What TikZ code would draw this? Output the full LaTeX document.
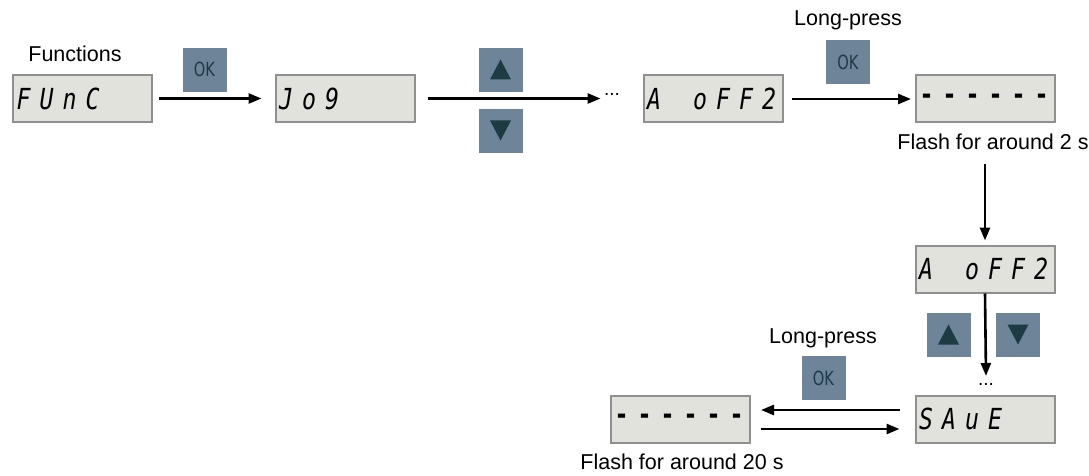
\documentclass[tikz,border=0pt]{standalone}
\usepackage{fontspec}
\setmainfont{Liberation Sans}
\newfontfamily\segfont{DejaVu Sans Mono}
\newfontfamily\okfont{DejaVu Sans}
\usetikzlibrary{arrows.meta}
\definecolor{btnfill}{HTML}{6E8498}
\definecolor{tri}{HTML}{1E3B44}
\definecolor{lcdfill}{HTML}{E1E2DC}
\definecolor{lcdline}{HTML}{8F8F8F}
\newcommand\sg[1]{\makebox[23pt][l]{\scalebox{0.8}[1]{#1}}}
\newcommand\segtext[1]{\makebox[132pt][l]{\segfont\itshape\fontsize{29}{29}\selectfont #1}}
\newcommand\dashtext{\makebox[132pt][l]{\segfont\bfseries\fontsize{29}{29}\selectfont \sg{-}\sg{-}\sg{-}\sg{-}\sg{-}\sg{-}}}
\tikzset{
  lcd/.style={draw=lcdline, line width=2pt, fill=lcdfill, minimum width=139pt, minimum height=47pt, inner sep=0pt, text=black},
  btn/.style={fill=btnfill, draw=white, line width=0.5pt, minimum size=45pt, inner sep=0pt},
  oktext/.style={text=tri, font=\okfont\fontsize{19.5}{19.5}\selectfont},
  lbl/.style={font=\fontsize{21.5}{24}\selectfont, inner sep=0pt},
  conn/.style={line width=2.6pt, -{Triangle[length=13pt,width=10pt]}},
}
\begin{document}
\begin{tikzpicture}[x=1pt,y=-1pt]
\useasboundingbox (0,0) rectangle (1089,476);
% row 1
\node[lbl] (lfunc) at (75,54) {Functions};
\node[lcd] (func) at (82.5,98.5) {\segtext{\sg{F}\sg{U}\sg{n}\sg{C}}};
\node[btn] (ok1) at (204.5,69.5) {};
\node[oktext] (ok1t) at (ok1.center) {\scalebox{0.75}[1]{OK}};
\node[lcd] (jog) at (345,98.5) {\segtext{\sg{J}\sg{o}\sg{9}}};
\node[btn] (up1) at (500.5,69.5) {};
\fill[tri] ([shift={(-10.5,10)}]up1.center) -- ([shift={(10.5,10)}]up1.center) -- ([shift={(0,-10)}]up1.center) -- cycle;
\node[btn] (dn1) at (500.5,130.5) {};
\fill[tri] ([shift={(-10.5,-10)}]dn1.center) -- ([shift={(10.5,-10)}]dn1.center) -- ([shift={(0,10)}]dn1.center) -- cycle;
\node[font=\fontsize{19}{20}\selectfont] (dots1) at (612,94) {...};
\node[lcd] (aoff) at (713,99) {\segtext{\sg{A}\sg{}\sg{o}\sg{F}\sg{F}\sg{2}}};
\node[lbl] (lp1) at (848,20) {Long-press};
\node[btn] (ok2) at (848,62) {};
\node[oktext] (ok2t) at (ok2.center) {\scalebox{0.75}[1]{OK}};
\node[lcd] (dash1) at (985.5,99) {\dashtext};
\node[lbl] (fl2) at (993,142) {Flash for around 2 s};
% column
\node[lcd] (aoff2) at (985,269) {\segtext{\sg{A}\sg{}\sg{o}\sg{F}\sg{F}\sg{2}}};
\node[btn] (up2) at (948.5,334.5) {};
\fill[tri] ([shift={(-10.5,10)}]up2.center) -- ([shift={(10.5,10)}]up2.center) -- ([shift={(0,-10)}]up2.center) -- cycle;
\node[btn] (dn2) at (1018,334.5) {};
\fill[tri] ([shift={(-10.5,-10)}]dn2.center) -- ([shift={(10.5,-10)}]dn2.center) -- ([shift={(0,10)}]dn2.center) -- cycle;
\coordinate (dend) at (986,376);
\node[font=\fontsize{19}{20}\selectfont, inner sep=0pt] (dots2) at (986,384) {...};
\node[lcd] (save) at (985,419) {\segtext{\sg{S}\sg{A}\sg{u}\sg{E}}};
% bottom
\node[lcd] (dash2) at (680.5,419) {\dashtext};
\node[lbl] (lp2) at (823,338) {Long-press};
\node[btn] (ok3) at (823.5,378) {};
\node[oktext] (ok3t) at (ok3.center) {\scalebox{0.75}[1]{OK}};
\node[lbl] (fl20) at (682,462) {Flash for around 20 s};
% connectors
\draw[conn, shorten <=6pt, shorten >=13pt] (func.east) -- (jog.west);
\draw[conn, shorten <=12pt] (jog.east) -- (dots1.west |- jog.east);
\draw[conn, shorten <=8pt, shorten >=4pt] (aoff.east) -- (dash1.west |- aoff.east);
\draw[conn, shorten <=14pt, shorten >=4pt] (fl2.south -| aoff2.north) -- (aoff2.north);
\draw[conn] (aoff2.south) -- (dend);
\draw[conn, shorten <=15pt, shorten >=10pt] ([yshift=9pt]save.west) -- ([yshift=9pt]dash2.east);
\draw[conn, shorten <=10pt, shorten >=15pt] ([yshift=-10pt]dash2.east) -- ([yshift=-10pt]save.west);
\end{tikzpicture}
\end{document}
